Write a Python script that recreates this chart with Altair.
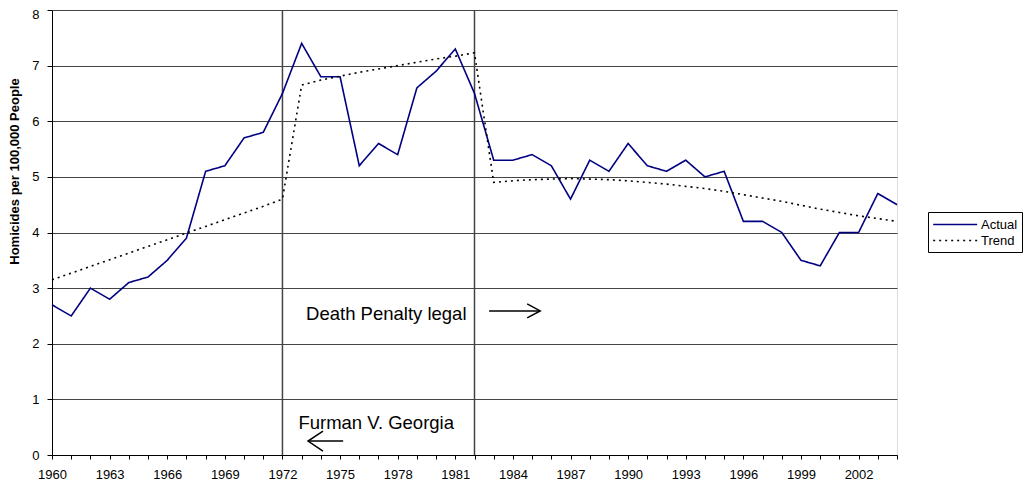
import altair as alt
import pandas as pd

years = list(range(1960, 2005))
actual = [2.7, 2.5, 3.0, 2.8, 3.1, 3.2, 3.5, 3.9, 5.1, 5.2, 5.7, 5.8, 6.5,
          7.4, 6.8, 6.8, 5.2, 5.6, 5.4, 6.6, 6.9, 7.3, 6.5,
          5.3, 5.3, 5.4, 5.2, 4.6, 5.3, 5.1, 5.6, 5.2, 5.1, 5.3, 5.0, 5.1,
          4.2, 4.2, 4.0, 3.5, 3.4, 4.0, 4.0, 4.7, 4.5]
trend = [3.15, 3.27, 3.39, 3.51, 3.63, 3.75, 3.87, 3.99, 4.11, 4.23, 4.35, 4.47, 4.60,
         6.65, 6.74, 6.81, 6.88, 6.94, 7.00, 7.06, 7.12, 7.17, 7.23,
         4.90, 4.93, 4.95, 4.96, 4.97, 4.96, 4.95, 4.93, 4.90, 4.87, 4.83, 4.79, 4.74,
         4.68, 4.62, 4.56, 4.49, 4.42, 4.36, 4.30, 4.25, 4.20]
series_names = ["Actual", "Trend"]
event_years = [1972, 1982]
y_ticks = [0, 1, 2, 3, 4, 5, 6, 7, 8]

notes_text = ["Death Penalty legal", "Furman V. Georgia"]
notes_x = [1973.23, 1972.83]
notes_y = [2.43, 0.47]

arrow_x = [1982.76, 1973.33]
arrow_x2 = [1985.42, 1975.16]
arrow_y = [2.59, 0.25]

FONT = "Liberation Sans"

df = pd.DataFrame({
    "year": years * 2,
    "value": actual + trend,
    "series": [series_names[0]] * len(years) + [series_names[1]] * len(years),
})
ev = pd.DataFrame({"year": event_years})
notes = pd.DataFrame({"text": notes_text, "x": notes_x, "y": notes_y})
arrows = pd.DataFrame({"x": arrow_x, "x2": arrow_x2, "y": arrow_y})

xscale = alt.Scale(domain=[1960, 2004], nice=False, zero=False)
yscale = alt.Scale(domain=[0, 8], nice=False)

xaxis = alt.Axis(
    values=years, format="d",
    labelExpr="(datum.value - 1960) % 3 == 0 ? datum.label : ''",
    labelOverlap=False, labelFlush=False, grid=False,
    tickSize=4, tickColor="black", domainColor="black",
    labelFont=FONT, labelFontSize=13, labelColor="black", labelPadding=9,
    title=None,
)
yaxis = alt.Axis(
    values=y_ticks, format="d",
    grid=True, gridColor="#444", gridWidth=1,
    tickSize=5, tickColor="black", domainColor="black",
    labelFont=FONT, labelFontSize=13, labelColor="black", labelPadding=8,
    labelOffset={"condition": {"test": "datum.value == 8", "value": 4.5}, "value": 0},
    labelOverlap=False,
    title="Homicides per 100,000 People",
    titleFont=FONT, titleFontSize=13, titleFontWeight="bold", titleColor="black",
    titleAngle=270, titleX=-38, titleY=161, titleAlign="center", titleBaseline="middle",
)

leg = alt.Legend(
    title=None, orient="none", legendX=876, legendY=202,
    strokeColor="black", padding=4, fillColor="white",
    labelFont=FONT, labelFontSize=13, labelColor="black",
    symbolType="M -1 0 L 5 0", symbolSize=215, symbolStrokeWidth=1.6,
    labelOffset=32, rowPadding=0,
)

base = alt.Chart(df)

lines = base.mark_line(strokeWidth=1.6).encode(
    x=alt.X("year:Q", scale=xscale, axis=xaxis),
    y=alt.Y("value:Q", scale=yscale, axis=yaxis),
    color=alt.Color("series:N",
                    scale=alt.Scale(domain=series_names, range=["#000080", "black"]),
                    legend=leg),
    strokeDash=alt.StrokeDash("series:N",
                              scale=alt.Scale(domain=series_names, range=[[1, 0], [2, 4]]),
                              legend=leg),
)

vrules = alt.Chart(ev).mark_rule(color="#444", strokeWidth=1.5).encode(
    x=alt.X("year:Q", scale=xscale, axis=xaxis),
)

texts = alt.Chart(notes).mark_text(
    align="left", baseline="alphabetic", font=FONT, fontSize=18.5, color="black"
).encode(
    x=alt.X("x:Q", scale=xscale, axis=xaxis),
    y=alt.Y("y:Q", scale=yscale, axis=yaxis),
    text="text:N",
)

shafts = alt.Chart(arrows).mark_rule(color="black", strokeWidth=1.5).encode(
    x=alt.X("x:Q", scale=xscale, axis=xaxis), x2="x2:Q",
    y=alt.Y("y:Q", scale=yscale, axis=yaxis),
)

head_right = alt.Chart(arrows.iloc[[0]]).mark_point(
    shape="M -1 -0.54 L 0 0 L -1 0.54", filled=False, color="black",
    strokeWidth=1.5, size=676, opacity=1
).encode(x=alt.X("x2:Q", scale=xscale, axis=xaxis), y=alt.Y("y:Q", scale=yscale, axis=yaxis))

head_left = alt.Chart(arrows.iloc[[1]]).mark_point(
    shape="M 1 -0.67 L 0 0 L 1 0.67", filled=False, color="black",
    strokeWidth=1.5, size=900, opacity=1
).encode(x=alt.X("x:Q", scale=xscale, axis=xaxis), y=alt.Y("y:Q", scale=yscale, axis=yaxis))

chart = alt.layer(vrules, lines, texts, shafts, head_right, head_left).properties(
    width=845, height=445,
    autosize=alt.AutoSizeParams(type="none"),
    padding={"left": 44, "top": 2, "right": 126, "bottom": 29},
).configure_view(stroke="#999", strokeWidth=2).configure(background="white")

chart.save("out.html", embed_options={"renderer": "svg", "actions": False})
